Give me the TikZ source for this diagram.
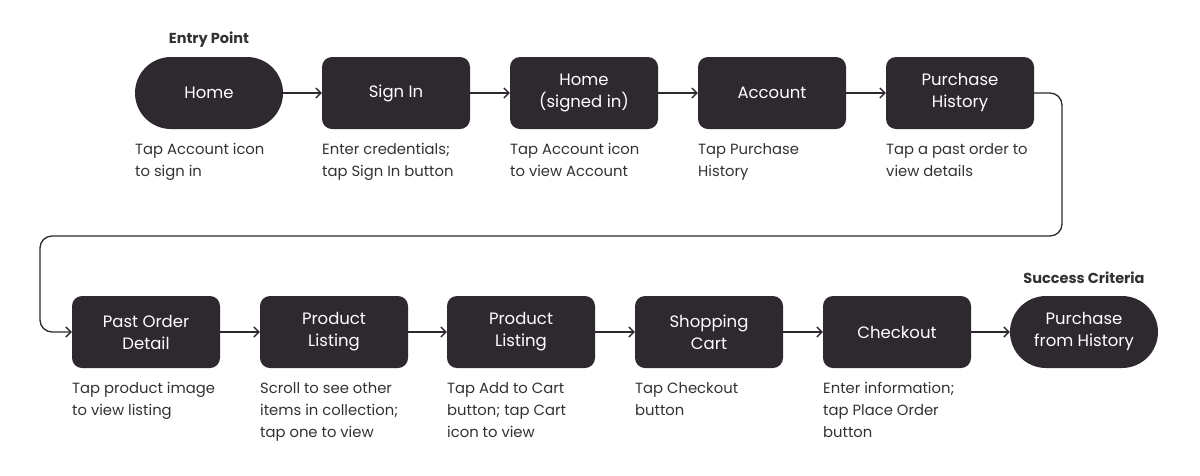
\documentclass[tikz,border=0pt]{standalone}
\usepackage{fontspec}
\setmainfont{Poppins}
\usetikzlibrary{arrows.meta}
\definecolor{boxgray}{RGB}{46,40,47}
\definecolor{textgray}{RGB}{50,50,52}
\tikzstyle{screen}=[fill=boxgray,text=white,rounded corners=10pt,minimum width=148pt,minimum height=72pt,inner sep=0pt,align=center,font=\fontsize{16.5}{22}\selectfont]
\tikzstyle{terminal}=[screen,rounded corners=36pt]
\tikzstyle{note}=[anchor=north west,inner sep=0pt,align=left,text=textgray,font=\fontsize{14.8}{22}\selectfont]
\tikzstyle{tag}=[inner sep=0pt,text=textgray,font=\bfseries\fontsize{14.5}{16}\selectfont]
\tikzstyle{flow}=[draw=boxgray,line width=1.3pt,-{Straight Barb[length=5pt,width=10pt]}]

\begin{document}
\begin{tikzpicture}[x=1pt,y=-1pt]
\useasboundingbox (0, 0) rectangle (1200, 475);
% top row
\node[terminal] at (209, 93) (home) {Home};
\node[screen] at (396, 93) (signin) {Sign In};
\node[screen] at (584, 93) (homesigned) {Home\\(signed in)};
\node[screen] at (772, 93) (account) {Account};
\node[screen] at (960, 93) (history) {Purchase\\History};
% bottom row
\node[screen] at (146, 332) (pastorder) {Past Order\\Detail};
\node[screen] at (334, 332) (listinga) {Product\\Listing};
\node[screen] at (521, 332) (listingb) {Product\\Listing};
\node[screen] at (709, 332) (cart) {Shopping\\Cart};
\node[screen] at (897, 332) (checkout) {Checkout};
\node[terminal] at (1084, 332) (success) {Purchase\\from History};
% tags
\node[tag] at (209, 40) (entry) {Entry Point};
\node[tag] at (1084, 278) (criteria) {Success Criteria};
% notes
\node[note] at (135, 143) (n1) {Tap Account icon\\to sign in};
\node[note] at (322, 143) (n2) {Enter credentials;\\tap Sign In button};
\node[note] at (510, 143) (n3) {Tap Account icon\\to view Account};
\node[note] at (698, 143) (n4) {Tap Purchase\\History};
\node[note] at (886, 143) (n5) {Tap a past order to\\view details};
\node[note] at (72, 382) (n6) {Tap product image\\to view listing};
\node[note] at (260, 382) (n7) {Scroll to see other\\items in collection;\\tap one to view};
\node[note] at (447, 382) (n8) {Tap Add to Cart\\button; tap Cart\\icon to view};
\node[note] at (635, 382) (n9) {Tap Checkout\\button};
\node[note] at (823, 382) (n10) {Enter information;\\tap Place Order\\button};
% connectors
\draw[flow] (home) -- (signin);
\draw[flow] (signin) -- (homesigned);
\draw[flow] (homesigned) -- (account);
\draw[flow] (account) -- (history);
\coordinate (turnright) at (1062, 236);
\coordinate (turnleft) at (40, 236);
\draw[flow,rounded corners=12pt] (history.east) -| (turnright) -- (turnleft) |- (pastorder.west);
\draw[flow] (pastorder) -- (listinga);
\draw[flow] (listinga) -- (listingb);
\draw[flow] (listingb) -- (cart);
\draw[flow] (cart) -- (checkout);
\draw[flow] (checkout) -- (success);
\end{tikzpicture}
\end{document}
